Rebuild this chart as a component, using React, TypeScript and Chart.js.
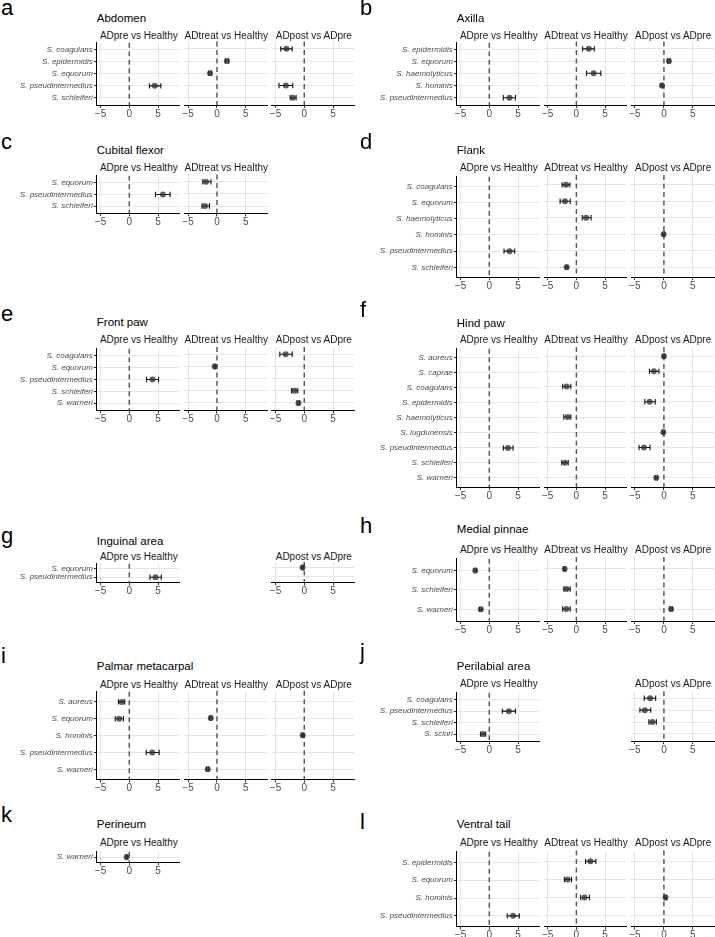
import React, { useEffect, useRef } from "react";
import { Chart, registerables } from "chart.js";
Chart.register(...registerables);

type Row = [string, number, number, number]; // species, estimate, lower, upper

// ---------------- DATA ----------------
const facetNames = ["ADpre vs Healthy", "ADtreat vs Healthy", "ADpost vs ADpre"];
const xTicks = [-5, 0, 5];
const xMin = -5.65;
const xMax = 8.65;

const abdomenSpecies = ["S. coagulans", "S. epidermidis", "S. equorum", "S. pseudintermedius", "S. schleiferi"];
const abdomenPre: Row[] = [["S. pseudintermedius", 4.43, 3.5, 5.5]];
const abdomenTreat: Row[] = [["S. epidermidis", 1.72, 1.45, 2.0], ["S. equorum", -1.2, -1.42, -0.98]];
const abdomenPost: Row[] = [["S. coagulans", -3.1, -4.1, -2.1], ["S. pseudintermedius", -3.2, -4.4, -2.0], ["S. schleiferi", -2.0, -2.45, -1.42]];

const axillaSpecies = ["S. epidermidis", "S. equorum", "S. haemolyticus", "S. hominis", "S. pseudintermedius"];
const axillaPre: Row[] = [["S. pseudintermedius", 3.52, 2.44, 4.55]];
const axillaTreat: Row[] = [["S. epidermidis", 2.16, 1.08, 3.13], ["S. haemolyticus", 3.0, 1.76, 4.26]];
const axillaPost: Row[] = [["S. equorum", 0.86, 0.66, 1.06], ["S. hominis", -0.34, -0.5, -0.18]];

const cubitalSpecies = ["S. equorum", "S. pseudintermedius", "S. schleiferi"];
const cubitalPre: Row[] = [["S. pseudintermedius", 5.85, 4.55, 7.1]];
const cubitalTreat: Row[] = [["S. equorum", -1.9, -2.45, -1.03], ["S. schleiferi", -2.07, -2.6, -1.3]];

const flankSpecies = ["S. coagulans", "S. equorum", "S. haemolyticus", "S. hominis", "S. pseudintermedius", "S. schleiferi"];
const flankPre: Row[] = [["S. pseudintermedius", 3.52, 2.56, 4.43]];
const flankTreat: Row[] = [["S. coagulans", -1.82, -2.5, -1.14], ["S. equorum", -1.99, -2.84, -1.08], ["S. haemolyticus", 1.7, 1.02, 2.56], ["S. schleiferi", -1.7, -1.9, -1.5]];
const flankPost: Row[] = [["S. hominis", -0.05, -0.2, 0.1]];

const frontPawSpecies = ["S. coagulans", "S. equorum", "S. pseudintermedius", "S. schleiferi", "S. warneri"];
const frontPawPre: Row[] = [["S. pseudintermedius", 4.03, 3.0, 5.1]];
const frontPawTreat: Row[] = [["S. equorum", -0.4, -0.55, -0.25]];
const frontPawPost: Row[] = [["S. coagulans", -3.24, -4.26, -2.1], ["S. schleiferi", -1.7, -2.2, -1.14], ["S. warneri", -1.02, -1.22, -0.82]];

const hindPawSpecies = ["S. aureus", "S. caprae", "S. coagulans", "S. epidermidis", "S. haemolyticus", "S. lugdunensis", "S. pseudintermedius", "S. schleiferi", "S. warneri"];
const hindPawPre: Row[] = [["S. pseudintermedius", 3.24, 2.44, 4.15]];
const hindPawTreat: Row[] = [["S. coagulans", -1.7, -2.39, -0.97], ["S. haemolyticus", -1.53, -2.2, -0.97], ["S. schleiferi", -1.99, -2.56, -1.42]];
const hindPawPost: Row[] = [["S. aureus", 0.0, -0.15, 0.15], ["S. caprae", -1.72, -2.5, -0.86], ["S. epidermidis", -2.47, -3.3, -1.5], ["S. lugdunensis", -0.1, -0.25, 0.05], ["S. pseudintermedius", -3.45, -4.3, -2.4], ["S. warneri", -1.32, -1.52, -1.12]];

const inguinalSpecies = ["S. equorum", "S. pseudintermedius"];
const inguinalPre: Row[] = [["S. pseudintermedius", 4.55, 3.6, 5.57]];
const inguinalPost: Row[] = [["S. equorum", -0.3, -0.45, -0.15]];

const pinnaeSpecies = ["S. equorum", "S. schleiferi", "S. warneri"];
const pinnaePre: Row[] = [["S. equorum", -2.44, -2.64, -2.24], ["S. warneri", -1.48, -1.68, -1.28]];
const pinnaeTreat: Row[] = [["S. equorum", -2.05, -2.2, -1.9], ["S. schleiferi", -1.7, -2.2, -1.08], ["S. warneri", -1.76, -2.4, -1.08]];
const pinnaePost: Row[] = [["S. warneri", 1.25, 1.05, 1.45]];

const palmarSpecies = ["S. aureus", "S. equorum", "S. hominis", "S. pseudintermedius", "S. warneri"];
const palmarPre: Row[] = [["S. aureus", -1.3, -1.88, -0.8], ["S. equorum", -1.76, -2.44, -1.02], ["S. pseudintermedius", 3.98, 2.95, 5.2]];
const palmarTreat: Row[] = [["S. equorum", -1.08, -1.28, -0.88], ["S. warneri", -1.6, -1.8, -1.4]];
const palmarPost: Row[] = [["S. hominis", -0.28, -0.43, -0.13]];

const perilabialSpecies = ["S. coagulans", "S. pseudintermedius", "S. schleiferi", "S. sciuri"];
const perilabialPre: Row[] = [["S. pseudintermedius", 3.41, 2.27, 4.55], ["S. sciuri", -1.08, -1.53, -0.62]];
const perilabialPost: Row[] = [["S. coagulans", -2.39, -3.4, -1.42], ["S. pseudintermedius", -3.3, -4.15, -2.27], ["S. schleiferi", -1.99, -2.6, -1.3]];

const perineumSpecies = ["S. warneri"];
const perineumPre: Row[] = [["S. warneri", -0.45, -0.6, -0.3]];

const ventralTailSpecies = ["S. epidermidis", "S. equorum", "S. hominis", "S. pseudintermedius"];
const ventralTailPre: Row[] = [["S. pseudintermedius", 4.15, 3.12, 5.23]];
const ventralTailTreat: Row[] = [["S. epidermidis", 2.44, 1.6, 3.4], ["S. equorum", -1.53, -2.1, -0.85], ["S. hominis", 1.42, 0.74, 2.27]];
const ventralTailPost: Row[] = [["S. hominis", 0.28, 0.13, 0.43]];

const panels = [
  { letter: "a", title: "Abdomen", species: abdomenSpecies, facets: [abdomenPre, abdomenTreat, abdomenPost] },
  { letter: "b", title: "Axilla", species: axillaSpecies, facets: [axillaPre, axillaTreat, axillaPost] },
  { letter: "c", title: "Cubital flexor", species: cubitalSpecies, facets: [cubitalPre, cubitalTreat, null] },
  { letter: "d", title: "Flank", species: flankSpecies, facets: [flankPre, flankTreat, flankPost] },
  { letter: "e", title: "Front paw", species: frontPawSpecies, facets: [frontPawPre, frontPawTreat, frontPawPost] },
  { letter: "f", title: "Hind paw", species: hindPawSpecies, facets: [hindPawPre, hindPawTreat, hindPawPost] },
  { letter: "g", title: "Inguinal area", species: inguinalSpecies, facets: [inguinalPre, null, inguinalPost] },
  { letter: "h", title: "Medial pinnae", species: pinnaeSpecies, facets: [pinnaePre, pinnaeTreat, pinnaePost] },
  { letter: "i", title: "Palmar metacarpal", species: palmarSpecies, facets: [palmarPre, palmarTreat, palmarPost] },
  { letter: "j", title: "Perilabial area", species: perilabialSpecies, facets: [perilabialPre, null, perilabialPost] },
  { letter: "k", title: "Perineum", species: perineumSpecies, facets: [perineumPre, null, null] },
  { letter: "l", title: "Ventral tail", species: ventralTailSpecies, facets: [ventralTailPre, ventralTailTreat, ventralTailPost] },
];

// ---------------- LAYOUT ----------------
const FONT = "'Liberation Sans', Arial, Helvetica, sans-serif";
const FACET_W = 84;
const X_AXIS_H = 16;
const CAP = 2.7;
const COLS = [
  { x0: 0, plotLefts: [96.8, 184.3, 271.8], letterX: 1 },
  { x0: 357, plotLefts: [456.8, 544, 631.2], letterX: 360 },
];
// top/bottom of plotting panel, strip centre, title centre, letter baseline
const LAYOUT: Record<string, { col: number; top: number; bottom: number; strip: number; title: number; letter: number }> = {
  a: { col: 0, top: 41.5, bottom: 105, strip: 35.7, title: 18.3, letter: 16 },
  b: { col: 1, top: 41.5, bottom: 105, strip: 35.7, title: 18.3, letter: 16 },
  c: { col: 0, top: 174.4, bottom: 213.3, strip: 168, title: 151, letter: 150 },
  d: { col: 1, top: 175, bottom: 277, strip: 168, title: 150.5, letter: 150 },
  e: { col: 0, top: 347, bottom: 410.3, strip: 340, title: 322.5, letter: 322 },
  f: { col: 1, top: 347, bottom: 487, strip: 340, title: 323.3, letter: 318 },
  g: { col: 0, top: 562, bottom: 582.3, strip: 556.5, title: 541.5, letter: 544 },
  h: { col: 1, top: 557, bottom: 621, strip: 550, title: 530, letter: 534 },
  i: { col: 0, top: 690.8, bottom: 779.5, strip: 685, title: 666.7, letter: 664 },
  j: { col: 1, top: 691.2, bottom: 741, strip: 684, title: 666.7, letter: 660 },
  k: { col: 0, top: 850, bottom: 862.3, strip: 843.3, title: 825, letter: 823 },
  l: { col: 1, top: 850.5, bottom: 926.5, strip: 843.3, title: 825, letter: 830 },
};

const facetMarks = {
  id: "facetMarks",
  beforeDatasetsDraw(chart: any) {
    const { ctx, chartArea, scales } = chart;
    const xs = scales.x;
    const ys = scales.y;
    ctx.save();
    const zx = xs.getPixelForValue(0);
    ctx.strokeStyle = "#5c5c5c";
    ctx.lineWidth = 1.5;
    ctx.setLineDash([5, 3.5]);
    ctx.beginPath();
    ctx.moveTo(zx, chartArea.top);
    ctx.lineTo(zx, chartArea.bottom);
    ctx.stroke();
    ctx.setLineDash([]);
    ctx.strokeStyle = "#111111";
    ctx.lineWidth = 1.1;
    for (const p of chart.data.datasets[0].data) {
      const y = ys.getPixelForValue(p.y);
      const a = xs.getPixelForValue(p.lo);
      const b = xs.getPixelForValue(p.hi);
      ctx.beginPath();
      ctx.moveTo(a, y);
      ctx.lineTo(b, y);
      ctx.moveTo(a, y - CAP);
      ctx.lineTo(a, y + CAP);
      ctx.moveTo(b, y - CAP);
      ctx.lineTo(b, y + CAP);
      ctx.stroke();
    }
    ctx.restore();
  },
};

type FacetProps = {
  species: string[];
  rows: Row[];
  showY: boolean;
  left: number;
  top: number;
  width: number;
  height: number;
  padding: { left: number; right: number; top: number; bottom: number };
  yWidth: number;
};

function FacetChart(props: FacetProps) {
  const ref = useRef<HTMLCanvasElement | null>(null);
  useEffect(() => {
    const { species, rows, showY, padding, yWidth } = props;
    const data = rows.map((r) => ({ x: r[1], y: species.indexOf(r[0]), lo: r[2], hi: r[3] }));
    const chart = new Chart(ref.current as HTMLCanvasElement, {
      type: "scatter",
      data: {
        datasets: [
          {
            data,
            pointRadius: 3,
            pointHoverRadius: 3,
            backgroundColor: "rgba(50,50,50,0.78)",
            borderWidth: 0,
          } as any,
        ],
      },
      options: {
        animation: false,
        responsive: false,
        maintainAspectRatio: false,
        devicePixelRatio: 1,
        events: [],
        layout: { padding },
        plugins: { legend: { display: false }, tooltip: { enabled: false }, title: { display: false } },
        scales: {
          x: {
            type: "linear",
            min: xMin,
            max: xMax,
            afterBuildTicks: (s: any) => {
              s.ticks = xTicks.map((v) => ({ value: v }));
            },
            afterFit: (s: any) => {
              s.height = X_AXIS_H;
            },
            grid: {
              color: (c: any) => (c.tick && c.tick.value === 0 ? "rgba(0,0,0,0)" : "#e5e5e5"),
              lineWidth: 1,
              drawTicks: true,
              tickLength: 3,
              tickColor: "#333333",
              tickWidth: 1,
            },
            border: { display: true, color: "#000000", width: 1 },
            ticks: {
              autoSkip: false,
              maxRotation: 0,
              padding: 0,
              color: "#4d4d4d",
              font: { family: FONT, size: 10 },
              callback: (v: any) => (v < 0 ? "\u2212" + Math.abs(v) : String(v)),
            },
          },
          y: {
            type: "linear",
            reverse: true,
            min: -0.6,
            max: species.length - 0.4,
            afterBuildTicks: (s: any) => {
              s.ticks = species.map((_, i) => ({ value: i }));
            },
            afterFit: (s: any) => {
              s.width = yWidth;
            },
            grid: {
              color: "#e5e5e5",
              lineWidth: 1,
              drawTicks: showY,
              tickLength: 3,
              tickColor: "#333333",
              tickWidth: 1,
            },
            border: { display: showY, color: "#000000", width: 1 },
            ticks: {
              display: showY,
              autoSkip: false,
              padding: 1,
              color: "#4d4d4d",
              font: { family: FONT, size: 8, style: "italic" },
              callback: (v: any) => species[v as number] ?? "",
            },
          },
        },
      } as any,
      plugins: [facetMarks],
    });
    return () => chart.destroy();
  }, []);
  return (
    <canvas
      ref={ref}
      width={props.width}
      height={props.height}
      style={{ position: "absolute", left: props.left, top: props.top, width: props.width, height: props.height }}
    />
  );
}

function Panel({ p }: { p: (typeof panels)[number] }) {
  const L = LAYOUT[p.letter];
  const col = COLS[L.col];
  const letterFs = 22;
  const titleFs = 11.5;
  const stripFs = 10;
  const els: React.ReactNode[] = [];
  els.push(
    <div
      key="letter"
      style={{ position: "absolute", left: col.letterX, top: L.letter - 0.8465 * letterFs, fontSize: letterFs, lineHeight: letterFs + "px", height: letterFs, color: "#000" }}
    >
      {p.letter}
    </div>
  );
  els.push(
    <div
      key="title"
      style={{ position: "absolute", left: col.plotLefts[0], top: L.title - titleFs / 2, fontSize: titleFs, lineHeight: titleFs + "px", whiteSpace: "nowrap", color: "#000" }}
    >
      {p.title}
    </div>
  );
  p.facets.forEach((rows, fi) => {
    if (!rows) return;
    const plotLeft = col.plotLefts[fi];
    const first = fi === 0;
    const cl = first ? col.x0 : Math.floor(plotLeft - 10);
    const leftSpace = plotLeft - cl;
    const cw = Math.ceil(plotLeft + FACET_W - cl + 1);
    const padRight = cw - (plotLeft + FACET_W - cl);
    const ct = Math.floor(L.top - 4);
    const padTop = L.top - ct;
    const ch = Math.ceil(L.bottom - ct + X_AXIS_H + 1);
    const padBottom = ch - (L.bottom - ct) - X_AXIS_H;
    els.push(
      <div
        key={"strip" + fi}
        style={{ position: "absolute", left: plotLeft + FACET_W / 2 - 60, width: 120, textAlign: "center", top: L.strip - stripFs / 2, fontSize: stripFs, lineHeight: stripFs + "px", whiteSpace: "nowrap", color: "#1a1a1a" }}
      >
        {facetNames[fi]}
      </div>
    );
    els.push(
      <FacetChart
        key={"facet" + fi}
        species={p.species}
        rows={rows}
        showY={first}
        left={cl}
        top={ct}
        width={cw}
        height={ch}
        padding={{ left: first ? 0 : leftSpace, right: padRight, top: padTop, bottom: padBottom }}
        yWidth={first ? leftSpace : 0}
      />
    );
  });
  return <>{els}</>;
}

export default function App() {
  return (
    <div style={{ position: "absolute", left: 0, top: 0, width: 715, height: 937, background: "#ffffff", overflow: "hidden", fontFamily: FONT }}>
      {panels.map((p) => (
        <Panel key={p.letter} p={p} />
      ))}
    </div>
  );
}
